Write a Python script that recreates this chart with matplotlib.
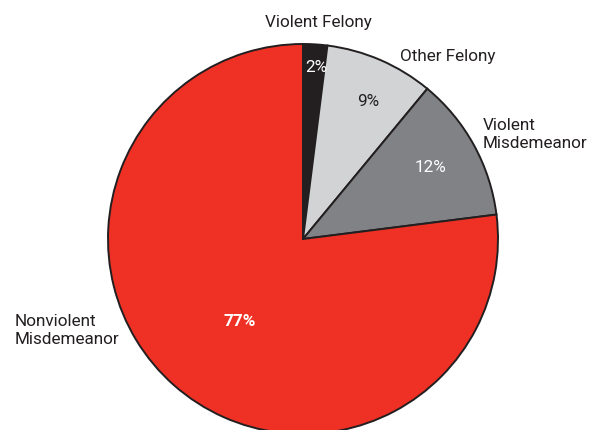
import matplotlib.pyplot as plt

categories = ["Violent Felony", "Other Felony", "Violent\nMisdemeanor", "Nonviolent\nMisdemeanor"]
shares = [2, 9, 12, 77]
pct_labels = ["2%", "9%", "12%", "77%"]
colors = ["#231f20", "#d1d3d4", "#808285", "#ee3124"]

plt.rcParams["font.family"] = ["Roboto", "DejaVu Sans"]

W, H = 590, 431
fig = plt.figure(figsize=(W / 100, H / 100), dpi=100)
ax = fig.add_axes([0, 0, 1, 1])

cx, cy, r = 303, H - 240, 195

ax.pie(
    shares,
    colors=colors,
    startangle=90,
    counterclock=False,
    center=(cx, cy),
    radius=r,
    frame=True,
    wedgeprops=dict(edgecolor="#231f20", linewidth=1.4),
)
ax.set_xlim(0, W)
ax.set_ylim(0, H)
ax.set_aspect("equal")
ax.axis("off")

text_color = "#231f20"
fs = 12.3

# category labels
ax.text(318, H - 22, categories[0], fontsize=fs, color=text_color, ha="center", va="center")
ax.text(400, H - 57, categories[1], fontsize=fs, color=text_color, ha="left", va="center")
ax.text(483, H - 134, categories[2], fontsize=fs, color=text_color, ha="left", va="center",
        linespacing=1.25)
ax.text(15, H - 330, categories[3], fontsize=fs, color=text_color, ha="left", va="center",
        linespacing=1.25)

# percentage labels
ax.text(316, H - 67, pct_labels[0], fontsize=fs, color="white", ha="center", va="center")
ax.text(368, H - 102, pct_labels[1], fontsize=fs, color=text_color, ha="center", va="center")
ax.text(430, H - 168, pct_labels[2], fontsize=fs, color="white", ha="center", va="center")
ax.text(240, H - 322, pct_labels[3], fontsize=fs, color="white", ha="center", va="center",
        fontweight="bold")

plt.savefig("out.png", dpi=100)
plt.close()
